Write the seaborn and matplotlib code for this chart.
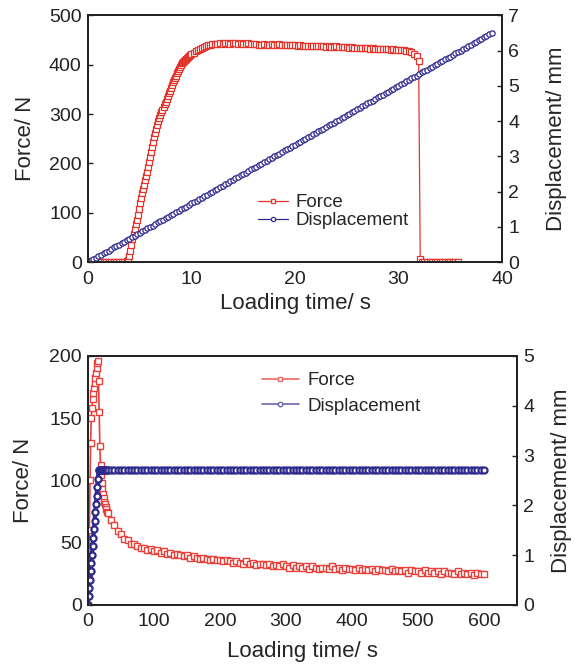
import numpy as np
import pandas as pd
import seaborn as sns
import matplotlib.pyplot as plt
from matplotlib.lines import Line2D

# ---- top test: force and displacement against loading time (0-40 s) ----
top_t_zero1 = np.arange(0, 3.8, 0.25)
top_f_zero1 = [3, 2, 1, 0, 0, 0, 0, 0, 0, 0, 0, 0, 0, 0, 0, 1]

top_t_rise = np.round(np.arange(3.8, 10.05, 0.1), 2)
top_f_rise = [2, 5, 12, 22, 35, 48, 58, 68, 78, 86,
              96, 108, 119, 130, 140, 148, 157, 166, 174, 183,
              193, 203, 213, 223, 233, 243, 253, 262, 270, 278,
              286, 293, 299, 304, 309, 315, 320, 325, 331, 337,
              342, 347, 353, 359, 364, 369, 373, 378, 383, 388,
              392, 396, 400, 403, 405, 407, 409, 411, 413, 415,
              417, 419, 421]

top_t_knee = np.round(np.arange(10.2, 12.05, 0.2), 2)
top_f_knee = [424, 427, 429, 431, 434, 436, 438, 439, 440, 441]

top_t_plateau = np.arange(12.25, 31.8, 0.25)
top_f_plateau = [442, 442, 443, 442, 443, 443, 442, 443, 443, 442, 443, 442, 442, 443, 442, 442,
                 441, 440, 440, 441, 440, 440, 441, 440, 440, 441, 440, 439, 440, 440, 439, 440,
                 438, 439, 438, 438, 437, 438, 438, 437, 437, 438, 437, 436, 437, 436, 436, 437,
                 436, 435, 435, 436, 434, 435, 434, 434, 433, 434, 433, 433, 432, 433, 432, 432,
                 431, 432, 431, 431, 430, 431, 430, 429, 430, 429, 428, 427, 425, 422, 418]

top_t_drop = [31.95, 32.1]
top_f_drop = [407, 7]

top_t_zero2 = np.arange(32.25, 36.0, 0.25)
top_f_zero2 = [1, 0, 0, 0, 0, 0, 0, 0, 0, 0, 0, 0, 0, 0, 0]

top_t_disp = np.arange(0, 39.01, 0.25)
top_d_disp = [0.00, 0.04, 0.08, 0.13, 0.17, 0.21, 0.25, 0.29, 0.33, 0.38, 0.42, 0.46,
              0.50, 0.54, 0.58, 0.63, 0.67, 0.71, 0.75, 0.79, 0.83, 0.88, 0.92, 0.96,
              1.00, 1.04, 1.08, 1.13, 1.17, 1.21, 1.25, 1.29, 1.33, 1.38, 1.42, 1.46,
              1.50, 1.54, 1.58, 1.63, 1.67, 1.71, 1.75, 1.79, 1.83, 1.88, 1.92, 1.96,
              2.00, 2.04, 2.08, 2.13, 2.17, 2.21, 2.25, 2.29, 2.33, 2.38, 2.42, 2.46,
              2.50, 2.54, 2.58, 2.63, 2.67, 2.71, 2.75, 2.79, 2.83, 2.88, 2.92, 2.96,
              3.00, 3.04, 3.08, 3.13, 3.17, 3.21, 3.25, 3.29, 3.33, 3.38, 3.42, 3.46,
              3.50, 3.54, 3.58, 3.63, 3.67, 3.71, 3.75, 3.79, 3.83, 3.88, 3.92, 3.96,
              4.00, 4.04, 4.08, 4.13, 4.17, 4.21, 4.25, 4.29, 4.33, 4.38, 4.42, 4.46,
              4.50, 4.54, 4.58, 4.63, 4.67, 4.71, 4.75, 4.79, 4.83, 4.88, 4.92, 4.96,
              5.00, 5.04, 5.08, 5.13, 5.17, 5.21, 5.25, 5.29, 5.33, 5.38, 5.42, 5.46,
              5.50, 5.54, 5.58, 5.63, 5.67, 5.71, 5.75, 5.79, 5.83, 5.88, 5.92, 5.96,
              6.00, 6.04, 6.08, 6.13, 6.17, 6.21, 6.25, 6.29, 6.33, 6.38, 6.42, 6.46,
              6.50]

# ---- bottom test: 0-600 s, displacement held after ~16 s ----
bot_t_start = np.arange(0, 31, 1)
bot_f_start = [0, 25, 60, 100, 130, 150, 158, 165, 170, 174,
               178, 182, 186, 190, 194, 196, 180, 155, 128, 112,
               104, 98, 93, 89, 86, 83, 81, 79, 77, 75, 74]
bot_d_start = [0.00, 0.17, 0.34, 0.51, 0.68, 0.84, 1.01, 1.18, 1.35, 1.52,
               1.69, 1.86, 2.03, 2.19, 2.36, 2.53, 2.70, 2.70, 2.70, 2.70,
               2.70, 2.70, 2.70, 2.70, 2.70, 2.70, 2.70, 2.70, 2.70, 2.70, 2.70]

bot_t_hold = np.arange(35, 601, 5)
bot_f_hold = [68, 64, 59, 57, 53, 52, 49, 49, 47, 46, 46, 44, 45,
              43, 44, 42, 43, 41, 42, 40, 41, 40, 39, 40, 38,
              39, 38, 37, 38, 37, 36, 37, 36, 36, 35, 36, 35,
              34, 35, 34, 33, 35, 33, 34, 32, 33, 33, 32, 33,
              31, 32, 31, 33, 31, 30, 32, 30, 31, 30, 31, 29,
              31, 30, 29, 30, 30, 29, 31, 29, 30, 28, 30, 29,
              29, 28, 30, 28, 29, 28, 29, 27, 29, 28, 28, 27,
              29, 27, 28, 27, 28, 26, 28, 27, 27, 26, 28, 26,
              27, 26, 27, 25, 27, 26, 26, 25, 27, 25, 26, 25,
              26, 24, 26, 25, 25]
bot_d_hold = [2.70, 2.70, 2.70, 2.70, 2.70, 2.70, 2.70, 2.70, 2.70, 2.70, 2.70, 2.70, 2.70,
              2.70, 2.70, 2.70, 2.70, 2.70, 2.70, 2.70, 2.70, 2.70, 2.70, 2.70, 2.70,
              2.70, 2.70, 2.70, 2.70, 2.70, 2.70, 2.70, 2.70, 2.70, 2.70, 2.70, 2.70,
              2.70, 2.70, 2.70, 2.70, 2.70, 2.70, 2.70, 2.70, 2.70, 2.70, 2.70, 2.70,
              2.70, 2.70, 2.70, 2.70, 2.70, 2.70, 2.70, 2.70, 2.70, 2.70, 2.70, 2.70,
              2.70, 2.70, 2.70, 2.70, 2.70, 2.70, 2.70, 2.70, 2.70, 2.70, 2.70, 2.70,
              2.70, 2.70, 2.70, 2.70, 2.70, 2.70, 2.70, 2.70, 2.70, 2.70, 2.70, 2.70,
              2.70, 2.70, 2.70, 2.70, 2.70, 2.70, 2.70, 2.70, 2.70, 2.70, 2.70, 2.70,
              2.70, 2.70, 2.70, 2.70, 2.70, 2.70, 2.70, 2.70, 2.70, 2.70, 2.70, 2.70,
              2.70, 2.70, 2.70, 2.70, 2.70]

# building dataframes for seaborn
top_force = pd.DataFrame({
    "t": np.concatenate([top_t_zero1, top_t_rise, top_t_knee, top_t_plateau, top_t_drop, top_t_zero2]),
    "F": np.concatenate([top_f_zero1, top_f_rise, top_f_knee, top_f_plateau, top_f_drop, top_f_zero2]),
})
top_disp = pd.DataFrame({"t": top_t_disp, "d": top_d_disp})
bot = pd.DataFrame({
    "t": np.concatenate([bot_t_start, bot_t_hold]),
    "F": np.concatenate([bot_f_start, bot_f_hold]),
    "d": np.concatenate([bot_d_start, bot_d_hold]),
})

sns.set_style("white")
plt.rcParams['font.family'] = ['Liberation Sans', 'DejaVu Sans']
plt.rcParams['xtick.direction'] = 'in'
plt.rcParams['ytick.direction'] = 'in'

red = "#e3342c"
blue = "#2f2a8e"
tick_fs = 14
label_fs = 16
legend_fs = 13.5

fig = plt.figure(figsize=(5.75, 6.64), dpi=100)
ax1 = fig.add_axes([0.153, 0.605, 0.720, 0.372])
ax3 = fig.add_axes([0.153, 0.089, 0.746, 0.375])


def style_axes(ax):
    for s in ax.spines.values():
        s.set_linewidth(1.3)
        s.set_color("#222222")
    ax.tick_params(labelsize=tick_fs, length=3.5, width=1.0, colors="#222222")
    ax.tick_params(axis="x", pad=6)
    ax.tick_params(axis="y", pad=4.5)


# top panel
fk = dict(marker="s", markersize=3.8, markerfacecolor="white", markeredgecolor=red,
          markeredgewidth=0.9, color=red, linewidth=0.9)
dk = dict(marker="o", markersize=3.8, markerfacecolor="white", markeredgecolor=blue,
          markeredgewidth=0.9, color=blue, linewidth=0.9)

sns.lineplot(data=top_force, x="t", y="F", ax=ax1, sort=False, estimator=None, label="Force", legend=False, **fk)
ax2 = ax1.twinx()
sns.lineplot(data=top_disp, x="t", y="d", ax=ax2, sort=False, estimator=None, label="Displacement", legend=False, **dk)
ax1.set_xlim(0, 40)
ax1.set_ylim(0, 500)
ax2.set_ylim(0, 7)
ax1.set_xticks([0, 10, 20, 30, 40])
ax1.set_yticks([0, 100, 200, 300, 400, 500])
ax2.set_yticks(range(0, 8))
ax1.set_xlabel("Loading time/ s", fontsize=label_fs, labelpad=4)
ax1.set_ylabel("Force/ N", fontsize=label_fs, labelpad=9)
ax2.set_ylabel("Displacement/ mm", fontsize=label_fs, labelpad=19)
for a in (ax1, ax2):
    style_axes(a)
h1, l1 = ax1.get_legend_handles_labels()
h2, l2 = ax2.get_legend_handles_labels()
ax1.legend(h1 + h2, l1 + l2, loc="lower left", bbox_to_anchor=(0.41, 0.133), frameon=False,
           fontsize=legend_fs, handlelength=1.6, handletextpad=0.4, labelspacing=0.05,
           borderpad=0, borderaxespad=0, markerscale=0.8)

# bottom panel - dense logging makes both traces look like thick bands
red2 = "#e8403a"
fk2 = dict(fk, markersize=4.2, markeredgecolor=red2, color=red2, markeredgewidth=1.0, linewidth=1.2)
dk2 = dict(dk, markersize=4.4, markeredgewidth=1.6, linewidth=3.0)
sns.lineplot(data=bot, x="t", y="F", ax=ax3, sort=False, estimator=None, legend=False, **fk2)
ax4 = ax3.twinx()
sns.lineplot(data=bot, x="t", y="d", ax=ax4, sort=False, estimator=None, legend=False, **dk2)
ax3.set_xlim(0, 650)
ax3.set_ylim(0, 200)
ax4.set_ylim(0, 5)
ax3.set_xticks([0, 100, 200, 300, 400, 500, 600])
ax3.set_yticks([0, 50, 100, 150, 200])
ax4.set_yticks(range(0, 6))
ax3.set_xlabel("Loading time/ s", fontsize=label_fs, labelpad=8)
ax3.set_ylabel("Force/ N", fontsize=label_fs, labelpad=11)
ax4.set_ylabel("Displacement/ mm", fontsize=label_fs, labelpad=12)
for a in (ax3, ax4):
    style_axes(a)
leg_handles = [
    Line2D([], [], color="#ee6a62", linewidth=1.2, marker="s", markersize=3.2,
           markerfacecolor="white", markeredgecolor="#ee6a62"),
    Line2D([], [], color="#6a66b0", linewidth=1.2, marker="o", markersize=3.2,
           markerfacecolor="white", markeredgecolor="#6a66b0"),
]
ax3.legend(leg_handles, ["Force", "Displacement"], loc="upper left", bbox_to_anchor=(0.405, 0.935),
           frameon=False, fontsize=legend_fs, handlelength=2.0, handletextpad=0.45,
           labelspacing=0.45, borderpad=0, borderaxespad=0)

fig.savefig("out.png", dpi=100)
